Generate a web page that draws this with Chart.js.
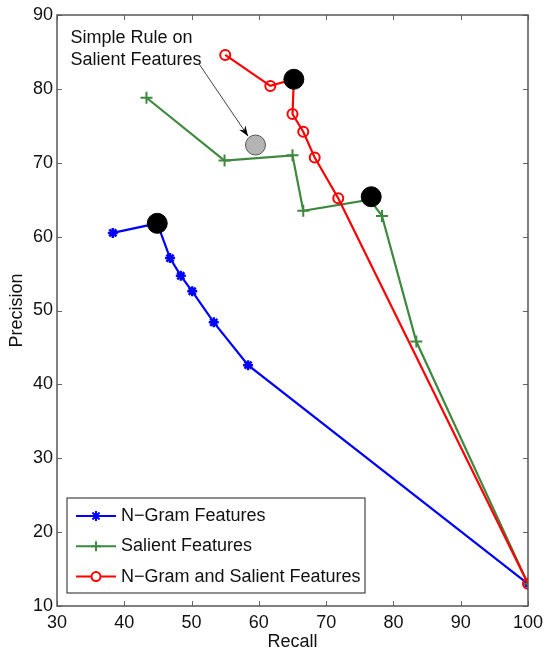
<!DOCTYPE html>
<html>
<head>
<meta charset="utf-8">
<script src="https://cdn.jsdelivr.net/npm/chart.js@4/dist/chart.umd.min.js"></script>
<style>
  html, body { margin: 0; padding: 0; background: #fff; }
  #wrap { width: 546px; height: 649px; }
</style>
</head>
<body>
<div id="wrap"><canvas id="prChart" width="546" height="649"></canvas></div>
<script>
// data (recall, precision)
var ngramRecall    = [38.3, 44.9, 46.8, 48.4, 50.1, 53.3, 58.4, 100];
var ngramPrecision = [60.5, 61.8, 57.1, 54.7, 52.6, 48.4, 42.6, 13.0];

var salientRecall    = [43.3, 54.9, 65.0, 66.6, 76.5, 78.3, 83.4, 100];
var salientPrecision = [78.8, 70.3, 71.0, 63.5, 65.0, 62.8, 45.8, 13.0];

var bothRecall    = [55.0, 61.7, 65.2, 65.0, 66.6, 68.3, 71.8, 100];
var bothPrecision = [84.6, 80.4, 81.3, 76.6, 74.2, 70.7, 65.2, 13.0];

// best operating points (black dots)
var bestRecall    = [44.9, 65.2, 76.7];
var bestPrecision = [61.8, 81.3, 65.4];

// simple rule on salient features (grey dot)
var ruleRecall    = [59.5];
var rulePrecision = [72.4];

var xTicks = [30, 40, 50, 60, 70, 80, 90, 100];
var yTicks = [10, 20, 30, 40, 50, 60, 70, 80, 90];

var seriesNames = ["N\u2212Gram Features", "Salient Features", "N\u2212Gram and Salient Features"];
var ruleLabel = ["Simple Rule on", "Salient Features"];

var FONT = "'Liberation Sans', Arial, Helvetica, sans-serif";
var BLUE = '#0000ff', GREEN = '#3f883f', RED = '#ff0000';

function pts(xs, ys) {
    return xs.map(function(x, i) { return {x: x, y: ys[i]}; });
}

// inward ticks + box frame, matlab style
var framePlugin = {
    id: 'frame',
    afterDraw: function(chart) {
        var ctx = chart.ctx, a = chart.chartArea;
        var xs = chart.scales.x, ys = chart.scales.y;
        ctx.save();
        ctx.strokeStyle = '#666';
        ctx.lineWidth = 1;
        ctx.beginPath();
        xs.ticks.forEach(function(t) {
            var px = Math.round(xs.getPixelForValue(t.value)) + 0.5;
            ctx.moveTo(px, a.bottom); ctx.lineTo(px, a.bottom - 5);
            ctx.moveTo(px, a.top); ctx.lineTo(px, a.top + 5);
        });
        ys.ticks.forEach(function(t) {
            var py = Math.round(ys.getPixelForValue(t.value)) + 0.5;
            ctx.moveTo(a.left, py); ctx.lineTo(a.left + 5, py);
            ctx.moveTo(a.right, py); ctx.lineTo(a.right - 5, py);
        });
        ctx.stroke();
        ctx.strokeStyle = '#555';
        ctx.lineWidth = 1.5;
        ctx.strokeRect(a.left, a.top, a.right - a.left, a.bottom - a.top);
        ctx.restore();
    }
};

// text label with arrow pointing at the grey dot
var noteX = 32.0, noteY = 86.9;
var arrowFrom = {x: 51.1, y: 83.4}, arrowTo = {x: 58.4, y: 73.6};
var notePlugin = {
    id: 'note',
    afterDatasetsDraw: function(chart) {
        var ctx = chart.ctx, xs = chart.scales.x, ys = chart.scales.y;
        ctx.save();
        ctx.font = '18px ' + FONT;
        ctx.fillStyle = '#111';
        ctx.textBaseline = 'middle';
        ctx.textAlign = 'left';
        var tx = xs.getPixelForValue(noteX), ty = ys.getPixelForValue(noteY);
        ctx.fillText(ruleLabel[0], tx, ty);
        ctx.fillText(ruleLabel[1], tx, ty + 22);

        var x1 = xs.getPixelForValue(arrowFrom.x), y1 = ys.getPixelForValue(arrowFrom.y);
        var x2 = xs.getPixelForValue(arrowTo.x), y2 = ys.getPixelForValue(arrowTo.y);
        ctx.strokeStyle = '#444';
        ctx.lineWidth = 1;
        ctx.beginPath(); ctx.moveTo(x1, y1); ctx.lineTo(x2, y2); ctx.stroke();
        var ang = Math.atan2(y2 - y1, x2 - x1);
        ctx.fillStyle = '#000';
        ctx.beginPath();
        ctx.moveTo(x2, y2);
        ctx.lineTo(x2 - 11 * Math.cos(ang - 0.35), y2 - 11 * Math.sin(ang - 0.35));
        ctx.lineTo(x2 - 7 * Math.cos(ang), y2 - 7 * Math.sin(ang));
        ctx.lineTo(x2 - 11 * Math.cos(ang + 0.35), y2 - 11 * Math.sin(ang + 0.35));
        ctx.closePath();
        ctx.fill();
        ctx.restore();
    }
};

function drawMarker(ctx, style, x, y, color) {
    ctx.strokeStyle = color;
    ctx.fillStyle = color;
    ctx.lineWidth = 2;
    ctx.beginPath();
    if (style == 'star') {
        for (var k = 0; k < 4; k++) {
            var an = k * Math.PI / 4;
            ctx.moveTo(x - 5 * Math.cos(an), y - 5 * Math.sin(an));
            ctx.lineTo(x + 5 * Math.cos(an), y + 5 * Math.sin(an));
        }
    } else if (style == 'cross') {
        ctx.moveTo(x - 5, y); ctx.lineTo(x + 5, y);
        ctx.moveTo(x, y - 5); ctx.lineTo(x, y + 5);
    } else {
        ctx.fillStyle = '#fff';
        ctx.arc(x, y, 4.5, 0, Math.PI * 2);
        ctx.fill();
    }
    ctx.stroke();
}

// legend box in lower left of the plot
var legendPlugin = {
    id: 'boxLegend',
    afterDraw: function(chart) {
        var ctx = chart.ctx, a = chart.chartArea;
        var bx = a.left + 10, by = a.bottom - 108, bw = 298, bh = 95;
        var styles = ['star', 'cross', 'circle'];
        var colors = [BLUE, GREEN, RED];
        ctx.save();
        ctx.fillStyle = '#fff';
        ctx.fillRect(bx, by, bw, bh);
        ctx.strokeStyle = '#444';
        ctx.lineWidth = 1.2;
        ctx.strokeRect(bx, by, bw, bh);
        ctx.font = '18px ' + FONT;
        ctx.textBaseline = 'middle';
        for (var i = 0; i < 3; i++) {
            var ly = by + 18 + i * 30.3;
            ctx.strokeStyle = colors[i];
            ctx.lineWidth = 2;
            ctx.beginPath(); ctx.moveTo(bx + 9, ly); ctx.lineTo(bx + 49, ly); ctx.stroke();
            drawMarker(ctx, styles[i], bx + 29, ly, colors[i]);
            ctx.fillStyle = '#111';
            ctx.fillText(seriesNames[i], bx + 54, ly);
        }
        ctx.restore();
    }
};

const prCanvas = document.getElementById('prChart').getContext('2d');

const prChart = new Chart(prCanvas, {
    type: 'scatter',
    data: {
        datasets: [
            {
                label: 'best',
                data: pts(bestRecall, bestPrecision),
                pointRadius: 10,
                pointBackgroundColor: '#000',
                pointBorderColor: '#000',
                showLine: false,
                order: 0
            },
            {
                label: 'rule',
                data: pts(ruleRecall, rulePrecision),
                pointRadius: 10,
                pointBackgroundColor: '#b4b4b4',
                pointBorderColor: '#555',
                pointBorderWidth: 1,
                showLine: false,
                order: 1
            },
            {
                label: seriesNames[2],
                data: pts(bothRecall, bothPrecision),
                showLine: true,
                borderColor: RED,
                borderWidth: 2.2,
                pointStyle: 'circle',
                pointRadius: 5,
                pointBorderWidth: 2,
                pointBorderColor: RED,
                pointBackgroundColor: 'rgba(255,255,255,0)',
                order: 2
            },
            {
                label: seriesNames[1],
                data: pts(salientRecall, salientPrecision),
                showLine: true,
                borderColor: GREEN,
                borderWidth: 2.2,
                pointStyle: 'cross',
                pointRadius: 6,
                pointBorderWidth: 2,
                pointBorderColor: GREEN,
                order: 3
            },
            {
                label: seriesNames[0],
                data: pts(ngramRecall, ngramPrecision),
                showLine: true,
                borderColor: BLUE,
                borderWidth: 2.2,
                pointStyle: 'star',
                pointRadius: 5,
                pointBorderWidth: 2.5,
                pointBorderColor: BLUE,
                order: 4
            }
        ]
    },
    options: {
        responsive: false,
        animation: false,
        events: [],
        layout: { padding: { top: 15, right: 18, left: 0, bottom: 0 } },
        plugins: {
            legend: { display: false },
            tooltip: { enabled: false }
        },
        elements: { line: { tension: 0 } },
        scales: {
            x: {
                type: 'linear',
                min: 30,
                max: 100,
                afterBuildTicks: function(scale) {
                    scale.ticks = xTicks.map(function(v) { return {value: v}; });
                },
                ticks: { padding: 6, color: '#111', font: { family: FONT, size: 18 } },
                grid: { display: false, drawTicks: false },
                border: { display: false },
                title: {
                    display: true,
                    text: 'Recall',
                    color: '#111',
                    font: { family: FONT, size: 18 },
                    padding: { top: 0, bottom: -4 }
                },
                afterFit: function(scale) {
                    scale.height = 43;
                    scale.paddingLeft = 0;
                    scale.paddingRight = 0;
                }
            },
            y: {
                type: 'linear',
                min: 10,
                max: 90,
                afterBuildTicks: function(scale) {
                    scale.ticks = yTicks.map(function(v) { return {value: v}; });
                },
                ticks: { padding: 4, color: '#111', font: { family: FONT, size: 18 } },
                grid: { display: false, drawTicks: false },
                border: { display: false },
                title: {
                    display: true,
                    text: 'Precision',
                    color: '#111',
                    font: { family: FONT, size: 18 },
                    padding: { top: 6, bottom: 0 }
                },
                afterFit: function(scale) {
                    scale.width = 57;
                    scale.paddingTop = 0;
                    scale.paddingBottom = 0;
                }
            }
        }
    },
    plugins: [framePlugin, notePlugin, legendPlugin]
});
</script>
</body>
</html>
